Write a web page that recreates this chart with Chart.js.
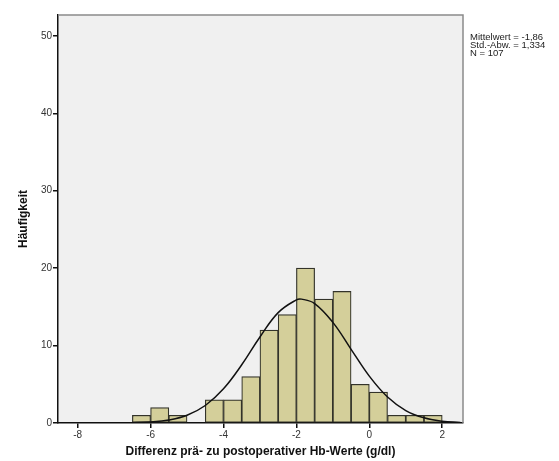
<!DOCTYPE html>
<html lang="de">
<head>
  <meta charset="UTF-8" />
  <title>Histogramm Hb-Differenz</title>
  <script src="https://cdn.jsdelivr.net/npm/chart.js"></script>
  <style>
    body { margin: 0; background: #fff; }
    #wrap { width: 559px; height: 461px; }
  </style>
</head>
<body>
  <div id="wrap"><canvas id="chart"></canvas></div>

  <script>
    // Bin centres (width 0.5) and counts
    const binCenters = [-6.25, -5.75, -5.25, -4.75, -4.25, -3.75, -3.25, -2.75, -2.25,
                        -1.75, -1.25, -0.75, -0.25, 0.25, 0.75, 1.25, 1.75];
    const counts     = [1, 2, 1, 0, 3, 3, 6, 12, 14, 20, 16, 17, 5, 4, 1, 1, 1];

    // Points along the normal curve as drawn in the picture
    const curveX = [-8.5, -8, -7.5, -7, -6.5, -6, -5.5, -5, -4.5, -4, -3.5, -3, -2.5, -2, -1.86,
                    -1.5, -1, -0.5, 0, 0.5, 1, 1.5, 2, 2.5];
    const curveY = [0, 0, 0.002, 0.01, 0.04, 0.13, 0.39, 1.0, 2.26, 4.42, 7.52, 11.11, 14.26, 15.91, 16.0,
                    15.43, 13.0, 9.52, 6.05, 3.35, 1.61, 0.67, 0.24, 0.08];

    const xTicks = [-8, -6, -4, -2, 0, 2];
    const yTicks = [0, 10, 20, 30, 40, 50];
    const statsLines = ['Mittelwert = -1,86', 'Std.-Abw. = 1,334', 'N = 107'];

    // plot background, grey top/right frame and the stats text
    const frame = {
      id: 'frame',
      beforeDraw(chart) {
        const { ctx, chartArea: a } = chart;
        ctx.save();
        ctx.fillStyle = '#f0f0f0';
        ctx.fillRect(a.left, a.top, a.right - a.left, a.bottom - a.top);
        ctx.restore();
      },
      afterDraw(chart) {
        const { ctx, chartArea: a } = chart;
        ctx.save();
        ctx.strokeStyle = '#8a8a8a';
        ctx.lineWidth = 1.5;
        ctx.beginPath();
        ctx.moveTo(a.left, a.top);
        ctx.lineTo(a.right, a.top);
        ctx.lineTo(a.right, a.bottom);
        ctx.stroke();
        ctx.fillStyle = '#222';
        ctx.font = '9.5px "Liberation Sans", Arial, sans-serif';
        ctx.textBaseline = 'middle';
        statsLines.forEach((t, i) => ctx.fillText(t, a.right + 7, 37 + i * 8));
        ctx.restore();
      }
    };

    new Chart(document.getElementById('chart'), {
      data: {
        datasets: [
          {
            type: 'line',
            data: curveX.map((x, i) => ({ x, y: curveY[i] })),
            borderColor: '#111',
            borderWidth: 1.5,
            pointRadius: 0,
            tension: 0.4,
            order: 0
          },
          {
            type: 'bar',
            data: binCenters.map((x, i) => ({ x, y: counts[i] })),
            backgroundColor: '#d4cf9a',
            borderColor: '#33332a',
            borderWidth: 1.2,
            borderSkipped: false,
            barPercentage: 1,
            categoryPercentage: 1,
            order: 1
          }
        ]
      },
      options: {
        responsive: true,
        maintainAspectRatio: false,
        animation: false,
        layout: { padding: { left: 0, right: 96, top: 15, bottom: 0 } },
        plugins: { legend: { display: false }, tooltip: { enabled: false } },
        scales: {
          x: {
            type: 'linear',
            min: -8.54,
            max: 2.57,
            offset: false,
            afterBuildTicks: s => { s.ticks = xTicks.map(v => ({ value: v })); },
            afterFit: s => { s.height = 38; },
            grid: { offset: false, drawOnChartArea: false, drawTicks: true, tickLength: 5, color: '#111', lineWidth: 1.5 },
            border: { display: true, color: '#111', width: 1.5 },
            ticks: { color: '#333', font: { family: '"Liberation Sans", Arial', size: 10 }, padding: 1 },
            title: {
              display: true,
              text: 'Differenz prä- zu postoperativer Hb-Werte (g/dl)',
              color: '#111',
              font: { family: '"Liberation Sans", Arial', size: 12, weight: 'bold' },
              padding: { top: 0, bottom: 2 }
            }
          },
          y: {
            min: 0,
            max: 52.7,
            afterBuildTicks: s => { s.ticks = yTicks.map(v => ({ value: v })); },
            afterFit: s => { s.width = 58; },
            grid: { drawOnChartArea: false, drawTicks: true, tickLength: 5, color: '#111', lineWidth: 1.5 },
            border: { display: true, color: '#111', width: 1.5 },
            ticks: { color: '#333', font: { family: '"Liberation Sans", Arial', size: 10 }, padding: 1 },
            title: {
              display: true,
              text: 'Häufigkeit',
              color: '#111',
              font: { family: '"Liberation Sans", Arial', size: 12, weight: 'bold' },
              padding: { top: 16, bottom: 0 }
            }
          }
        }
      },
      plugins: [frame]
    });
  </script>
</body>
</html>
